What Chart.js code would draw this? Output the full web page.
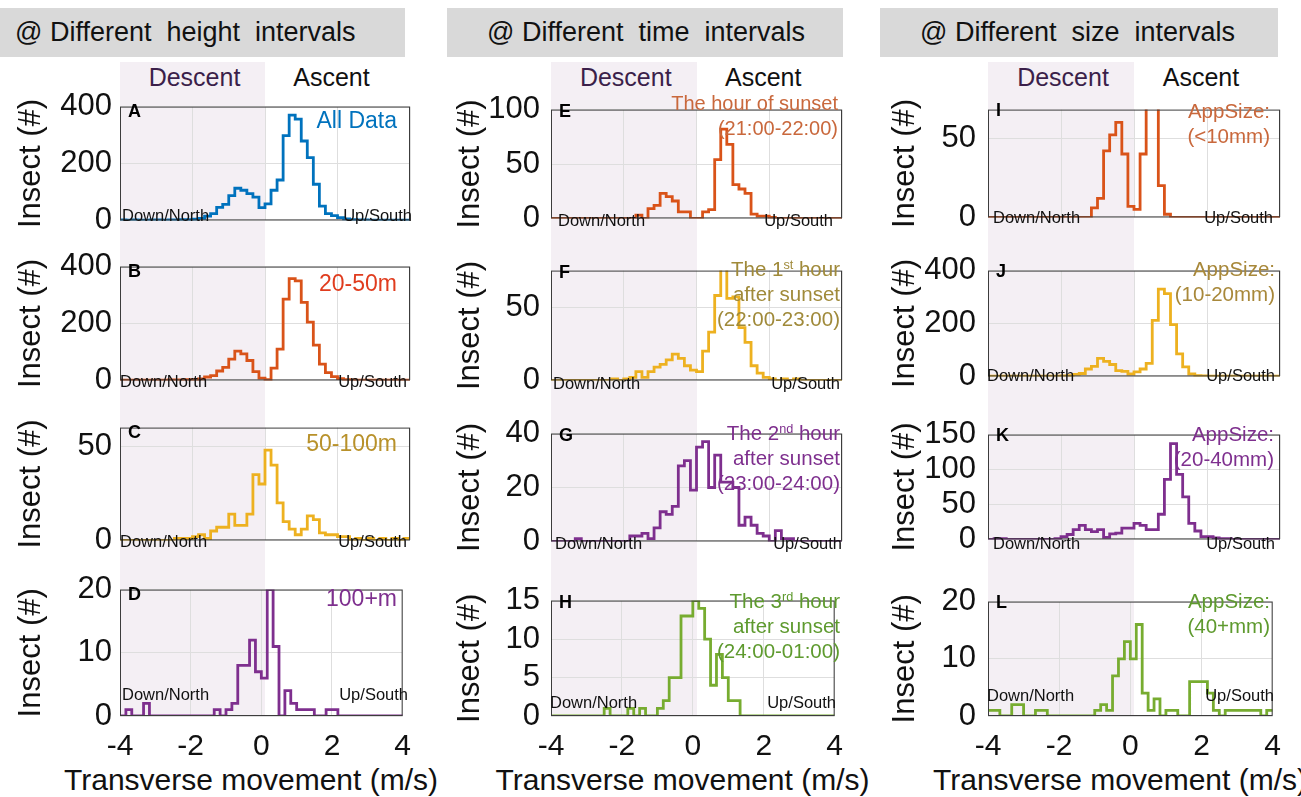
<!DOCTYPE html>
<html>
<head>
<meta charset="utf-8">
<script src="https://cdn.jsdelivr.net/npm/chart.js@4.4.0/dist/chart.umd.min.js"></script>
<style>
  body { margin: 0; background: #fff; }
  #page { position: relative; width: 1301px; height: 797px; overflow: hidden;
          font-family: "Liberation Sans", Arial, sans-serif; }
  .abs { position: absolute; white-space: nowrap; }
  .hdr { background: #d9d9d9; font-size: 27px; line-height: 49px; color: #111; box-sizing: border-box; }
  .band { background: #f4eff4; }
  .half { font-size: 25px; transform: translate(-50%, -50%); }
  .letter { font-weight: bold; font-size: 18px; transform: translateY(-50%); color: #000; }
  .note { font-size: 16.5px; transform: translateY(-50%); color: #111; }
  .lab { text-align: right; line-height: 25px; }
  .lab sup { font-size: 0.62em; vertical-align: 0.55em; line-height: 0; }
  .xt { font-size: 30px; text-align: center; transform: translateY(-50%); color: #111; }
</style>
</head>
<body>
<div id="page"></div>
<script>
// histogram bins: -4 .. 4 m/s, 48 bins
const binStart = -4;
const binWidth = 1 / 6;
const xTicks = [-4, -2, 0, 2, 4];

// @ different height intervals
const heightAll = [2,1,2,1,1,2,2,1,2,2,3,3,4, 7,15,24,46,56,87,113,106,94,82,45,58,106,142,298,370,356,279,221,127,50,24,17,10,5, 3,2,2,1,1,1,1,1,1,1];
const height20to50 = [1,1,1,1,1,1,1,1,2,2,2,3,3,5, 12,17,33,46,75,103,93,70,31,8,3,43,110,286,358,350,274,205,124,57,27,13,6, 3,2,1,1,1,1,1,1,1,1,1];
const height50to100 = [0,0,0,0,0,0,0,0,0, 1,1,1,2,3,1,5,7,7,14,8,8,14,35,30,48,40,20,10,6,3,6,13,11,4,3,3,2,2,0,1,0,1,0,1,0,1,0,1];
const height100plus = [0,1,0,0,2, 0,0,0,0,0,0,0,0,0,0,0, 1,0,1,2,8,8,12,7,6,20,11,0,4,2,1,1,1,0,0,1,1, 0,0,0,0,0,0,0,0,0,0,0];

// @ different time intervals
const timeSunset = [0,0,0,0,0,0,0,0,0,0,0,0,0,0, 3,0,9,12,23,20,16,6,6,0,0,6,8,54,82,68,31,27,23,4,2,2,1, 0,0,0,0,0,0,0,0,0,0,0];
const timeHour1 = [0,0,0,0,0,0,0,0,0,0, 1,0,1,2,6,2,6,9,11,14,18,15,10,7,6,20,33,58,77,56,57,36,26,10,5,2,1,0,1,0,1, 0,0,0,0,0,0,0];
const timeHour2 = [0,0,0,0,1, 0,0,0,0,0,0,0,0, 2,2,3,1,5,11,10,13,28,30,19,35,37,20,32,22,22,20,6,9,6,3,2,0,4,1,1, 0,0,0,0,0,0,0,0];
const timeHour3 = [0,0,0,0,0,0,0,0,0, 1, 0,0,0, 1,0,1,0,0,1,2,5,5,13,13,15,14,10,4,8,5,2,2, 0,0,0,0,0,0,0,0,0,0,0,0,0,0,0,0];

// @ different size intervals
const sizeUnder10 = [0,0,0,0,0,0,0,0,0,0,0,0,0,0,0,0,0, 6,12,42,52,60,40,7,5,40,70,70,20,2, 0,0,0,0,0,0,0,0,0,0,0,0,0,0,0,0,0,0];
const size10to20 = [1,1,1,1,1,1,1,1,1,1,1,1,2, 3,8,11,28,38,68,57,45,22,19,9,17,28,49,212,330,313,196,85,36,9,3, 2,1,1,1,1,1,1,1,1,1,1,1,1];
const size20to40 = [0,1,1, 0,0,0,0,0,0,0,0, 1,4,7,14,20,14,11,14,3,8,9,16,16,23,20,14,14,36,86,137,93,61,23,12,4,4,2,1,1, 0,0,0,0,0,0,0,0];
const size40plus = [1,1,0,0,2,2,0,0,1,1, 0,0,0,0,0,0,0,0, 1,2,1,7,10,13,10,16,4,1,3,0,1,1,0,0,6,6,6,4,1,0,1,1,1,1,1,1,0,1];

const headers = ['@ Different  height  intervals', '@ Different  time  intervals', '@ Different  size  intervals'];

// plot-box geometry in page pixels
const cols = [
  { l: 120, r: 410, hx: 0, hw: 405, hpad: 15, titleX: 31, tickPad: 8 },
  { l: 551, r: 842, hx: 447, hw: 396, hpad: 40, titleX: 470, tickPad: 11 },
  { l: 988, r: 1280, hx: 880, hw: 398, hpad: 40, titleX: 905, tickPad: 12 }
];

const panels = [
  { id: 'A', data: heightAll, color: '#0072BD', yMax: 400, yTicks: [0, 200, 400], col: 0, top: 94, bottom: 233,
    label: ['All Data'], labColor: '#0072BD', labSize: 23, labTop: 26, labRight: 13, nl: 2, ur: -2, nd: 18 },
  { id: 'B', data: height20to50, color: '#D95319', yMax: 400, yTicks: [0, 200, 400], col: 0, top: 254, bottom: 393,
    label: ['20-50m'], labColor: '#E03C1E', labSize: 23, labTop: 29, labRight: 13, nl: 0, ur: 3, nd: 12 },
  { id: 'C', data: height50to100, color: '#EDB120', yMax: 60, yTicks: [0, 50], col: 0, top: 415, bottom: 553,
    label: ['50-100m'], labColor: '#B8912A', labSize: 23, labTop: 28, labRight: 13, nl: 0, ur: 3, nd: 12 },
  { id: 'D', data: height100plus, color: '#7E2F8E', yMax: 20, yTicks: [0, 10, 20], col: 0, top: 577, bottom: 716,
    label: ['100+m'], labColor: '#7E2F8E', labSize: 23, labTop: 21, labRight: 13, nl: 2, ur: 2, nd: 22, last: true },
  { id: 'E', data: timeSunset, color: '#D95319', yMax: 100, yTicks: [0, 50, 100], col: 1, top: 94, bottom: 234,
    label: ['The hour of sunset', '(21:00-22:00)'], labColor: '#C9683C', labSize: 20, labTop: 9, labRight: 4, nl: 7, ur: 9, nd: 14 },
  { id: 'F', data: timeHour1, color: '#EDB120', yMax: 75, yTicks: [0, 50], col: 1, top: 255, bottom: 396,
    label: ['The 1<sup>st</sup> hour', 'after sunset', '(22:00-23:00)'], labColor: '#A08A3A', labSize: 20.5, labTop: 13, labRight: 2, nl: 2, ur: 2, nd: 13 },
  { id: 'G', data: timeHour2, color: '#7E2F8E', yMax: 40, yTicks: [0, 20, 40], col: 1, top: 418, bottom: 557,
    label: ['The 2<sup>nd</sup> hour', 'after sunset', '(23:00-24:00)'], labColor: '#7E2F8E', labSize: 20.5, labTop: 14, labRight: 2, nl: 4, ur: 0, nd: 14 },
  { id: 'H', data: timeHour3, color: '#77AC30', yMax: 15, yTicks: [0, 5, 10, 15], col: 1, top: 585, bottom: 716,
    label: ['The 3<sup>rd</sup> hour', 'after sunset', '(24:00-01:00)'], labColor: '#5E9A2E', labSize: 20.5, labTop: 15, labRight: 2, nl: -1, ur: 6, nd: 14, last: true },
  { id: 'I', data: sizeUnder10, color: '#D95319', yMax: 68, yTicks: [0, 50], col: 2, top: 93, bottom: 234,
    label: ['AppSize:', '(<10mm)'], labColor: '#C9683C', labSize: 20.5, labTop: 17, labRight: 10, nl: 5, ur: 7, nd: 17 },
  { id: 'J', data: size10to20, color: '#EDB120', yMax: 400, yTicks: [0, 200, 400], col: 2, top: 254, bottom: 393,
    label: ['AppSize:', '(10-20mm)'], labColor: '#A8883A', labSize: 20.5, labTop: 14, labRight: 5, nl: -1, ur: 5, nd: 18 },
  { id: 'K', data: size20to40, color: '#7E2F8E', yMax: 150, yTicks: [0, 50, 100, 150], col: 2, top: 418, bottom: 556,
    label: ['AppSize:', '(20-40mm)'], labColor: '#7E2F8E', labSize: 20.5, labTop: 15, labRight: 6, nl: 5, ur: 5, nd: 13 },
  { id: 'L', data: size40plus, color: '#77AC30', yMax: 20, yTicks: [0, 10, 20], col: 2, top: 585, bottom: 716,
    label: ['AppSize:', '(40+mm)'], labColor: '#5E9A2E', labSize: 20.5, labTop: 15, labRight: 10, nl: -1, ur: 6, nd: 21, last: true }
];

const page = document.getElementById('page');
function addDiv(cls, css, html) {
  const d = document.createElement('div');
  d.className = 'abs ' + cls;
  Object.assign(d.style, css);
  if (html !== undefined) d.innerHTML = html;
  page.appendChild(d);
  return d;
}

// headers, descent band, descent/ascent words, x title
cols.forEach((c, i) => {
  addDiv('hdr', { left: c.hx + 'px', top: '8px', width: c.hw + 'px', height: '49px', paddingLeft: c.hpad + 'px' },
    headers[i].replace(/ /g, '&nbsp;'));
  const mid = (c.l + c.r) / 2;
  addDiv('band', { left: c.l + 'px', top: '62px', width: (mid - c.l) + 'px', height: '655px' });
  addDiv('half', { left: (c.l + mid) / 2 + 2 + 'px', top: '77px', color: '#3b1f4a' }, 'Descent');
  addDiv('half', { left: (mid + c.r) / 2 - 6 + 'px', top: '77px', color: '#111' }, 'Ascent');
  addDiv('xt', { left: mid - 14 - 250 + 'px', top: '780px', width: '500px' }, 'Transverse movement (m/s)');
});

const boxPlugin = {
  id: 'box',
  afterDraw(chart) {
    const { ctx, chartArea: a } = chart;
    ctx.save();
    ctx.strokeStyle = '#3c3c3c';
    ctx.lineWidth = 1;
    ctx.strokeRect(a.left + 0.5, a.top + 0.5, a.right - a.left - 1, a.bottom - a.top - 1);
    ctx.restore();
  }
};

const font = 'Liberation Sans';
const axisW = 118, pad = 14, xAxisH = 82;

panels.forEach(p => {
  const c = cols[p.col];
  const plotW = c.r - c.l, plotH = p.bottom - p.top;
  const wrap = addDiv('', {
    left: (c.l - axisW) + 'px', top: (p.top - pad) + 'px',
    width: (axisW + plotW + pad) + 'px', height: (pad + plotH + (p.last ? xAxisH : pad)) + 'px'
  });
  const cv = document.createElement('canvas');
  wrap.appendChild(cv);

  const pts = p.data.map((v, i) => ({ x: binStart + i * binWidth, y: v }));
  pts.push({ x: binStart + p.data.length * binWidth, y: p.data[p.data.length - 1] });

  new Chart(cv, {
    type: 'line',
    data: {
      datasets: [{
        data: pts,
        borderColor: p.color,
        borderWidth: 2.8,
        pointRadius: 0,
        stepped: 'before',
        fill: false
      }]
    },
    options: {
      responsive: true,
      maintainAspectRatio: false,
      animation: false,
      events: [],
      layout: { padding: { left: 0, top: pad, right: pad, bottom: p.last ? 0 : pad } },
      plugins: { legend: { display: false }, tooltip: { enabled: false } },
      scales: {
        x: {
          type: 'linear', min: -4, max: 4,
          afterBuildTicks: s => { s.ticks = xTicks.map(v => ({ value: v })); },
          afterFit: s => { s.height = p.last ? xAxisH : 0; },
          grid: { color: '#dedede', drawTicks: false },
          border: { display: false },
          ticks: { display: !!p.last, autoSkip: false, maxRotation: 0, padding: 13, color: '#111',
                   font: { family: font, size: 30 } }
        },
        y: {
          min: 0, max: p.yMax,
          afterBuildTicks: s => { s.ticks = p.yTicks.map(v => ({ value: v })); },
          afterFit: s => { s.width = axisW; },
          grid: { color: '#dedede', drawTicks: false },
          border: { display: false },
          ticks: { autoSkip: false, padding: c.tickPad, color: '#111', font: { family: font, size: 31 } },
          title: { display: true, text: 'Insect (#)', color: '#111',
                   font: { family: font, size: 31, lineHeight: 1.2 },
                   padding: { top: c.titleX - (c.l - axisW) - 18.6, bottom: 0 } }
        }
      }
    },
    plugins: [boxPlugin]
  });

  // in-plot annotations
  addDiv('letter', { left: c.l + 8 + 'px', top: p.top + 17 + 'px' }, p.id);
  addDiv('note', { left: c.l + p.nl + 'px', top: p.bottom - p.nd + 'px' }, 'Down/North');
  addDiv('note', { left: c.r - p.ur - 90 + 'px', top: p.bottom - p.nd + 'px', width: '90px', textAlign: 'right' }, 'Up/South');
  addDiv('lab', {
    left: (c.r - p.labRight - 300) + 'px', top: p.top + p.labTop - 12.5 + 'px', width: '300px',
    color: p.labColor, fontSize: p.labSize + 'px'
  }, p.label.join('<br>'));
});
</script>
</body>
</html>
